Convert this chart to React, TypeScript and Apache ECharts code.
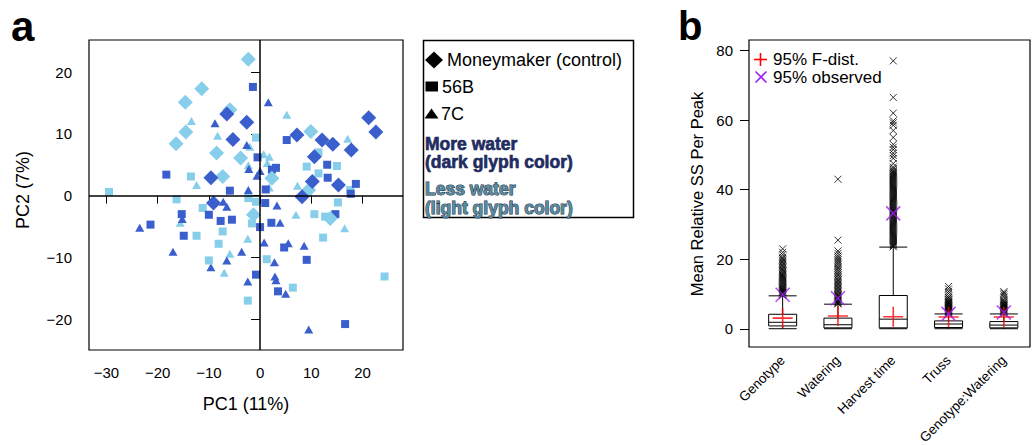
import React, { useEffect, useRef } from 'react';
import * as echarts from 'echarts';

// ---------- Panel a: PCA scores ----------
const darkDiamond = [
  [-6.5, 13.2], [-2.6, 11.9], [-5.3, 9.1], [-9.6, 2.9], [-9.1, -1.2], [7.2, 9.8],
  [21.2, 12.6], [22.6, 10.3], [12.1, 9.0], [14.2, 8.3], [17.8, 7.4], [10.6, 6.3],
  [10.2, 2.3], [15.3, 1.7], [8.2, -0.2],
];
const lightDiamond = [
  [-2.3, 22.1], [-11.4, 17.3], [-14.6, 15.1], [-5.9, 13.9], [-14.5, 10.3], [-16.4, 8.4],
  [-8.5, 6.9], [-3.8, 6.1], [-7.3, 3.1], [2.3, 2.8], [9.9, 10.4], [9.5, 0.9],
  [-1.3, -3.1], [13.7, -3.7],
];
const darkSquare = [
  [-1.4, 17.6], [-0.5, 6.2], [-18.3, 3.4], [-5.9, 0.8], [5.2, 9.0], [2.3, 4.2], [3.1, 4.5],
  [1.1, 1.0], [1.0, -1.2], [-15.3, -3.0], [-10.0, -3.1], [-7.7, -4.1], [-5.5, -3.9],
  [2.2, -4.4], [0.0, -5.1], [-14.9, -6.5], [4.7, -8.4], [9.1, -10.4], [-0.8, -12.8],
  [3.5, -15.5], [16.6, -20.8], [-21.4, -4.7], [13.1, 5.0], [13.2, 2.9], [18.7, 1.9],
  [17.7, 0.3], [14.7, -3.0],
];
const lightSquare = [
  [-0.8, 9.4], [-13.5, 3.1], [-29.5, 0.6], [-16.3, -0.6], [-2.3, -0.4], [-0.8, -1.0],
  [-11.2, -2.0], [-1.6, -4.5], [-12.4, -6.5], [-7.3, -5.8], [-8.1, -7.8], [-10.0, -10.5],
  [1.3, -10.3], [6.4, -14.9], [-2.4, -17.0], [9.1, 4.7], [15.0, 4.8], [11.4, 3.6],
  [17.6, 0.9], [15.2, -1.1], [10.6, -3.0], [12.7, -3.4], [12.3, -6.8], [24.3, -13.1],
  [11.4, 7.0],
];
const darkTriangle = [
  [-8.8, 11.7], [-2.6, 8.2], [-2.2, 4.3], [-0.6, 3.2], [-2.3, 0.9], [-7.2, -1.0],
  [-6.5, -1.8], [1.6, 15.1], [0.0, 4.0], [3.3, -1.6], [-15.2, -3.8], [3.9, -4.4],
  [-23.5, -5.2], [-17.0, -9.1], [-3.6, -9.1], [0.8, -7.6], [5.5, -7.7], [8.6, -8.1],
  [-6.5, -10.5], [-9.6, -11.6], [2.8, -10.8], [-2.4, -13.9], [2.9, -13.1], [3.1, -13.7],
  [5.0, -15.9], [9.5, -21.7],
];
const lightTriangle = [
  [-13.4, 12.1], [-8.3, 9.7], [-2.3, 4.9], [-2.0, 7.9], [-12.4, 1.7], [5.2, 13.1],
  [0.7, 6.7], [1.8, 6.3], [1.4, 5.3], [7.3, 1.6], [1.8, 1.3], [7.0, -3.1], [-15.6, -4.4],
  [-2.4, -7.0], [-5.9, -9.4], [-7.0, -12.5], [16.5, -5.3], [17.1, 9.2],
];
const pcaXTicks = [-30, -20, -10, 0, 10, 20];
const pcaYTicks = [-20, -10, 0, 10, 20];

// ---------- Panel b: boxplots ----------
const categories = ['Genotype', 'Watering', 'Harvest time', 'Truss', 'Genotype:Watering'];
// [min, Q1, median, Q3, upper whisker]
const boxStats = [
  [0.05, 0.86, 1.9, 4.2, 9.5],
  [0.05, 0.3, 1.2, 3.1, 7.1],
  [0.05, 0.3, 2.8, 9.6, 23.5],
  [0.05, 0.4, 1.4, 2.3, 4.3],
  [0.05, 0.3, 1.1, 2.1, 4.3],
];
const outGenotype = [
  9.6, 9.8, 10.0, 10.3, 10.5, 10.8, 11.0, 11.3, 11.5, 11.8, 12.0, 12.3, 12.6, 12.9, 13.2,
  13.5, 13.8, 14.1, 14.4, 14.7, 15.0, 15.3, 15.6, 16.0, 16.3, 16.7, 17.0, 17.4, 17.8, 18.2,
  18.6, 19.0, 19.4, 19.8, 20.2, 20.6, 21.3, 22.0, 23.0,
];
const outWatering = [
  7.2, 7.4, 7.7, 8.0, 8.3, 8.6, 8.9, 9.2, 9.5, 9.8, 10.1, 10.5, 10.9, 11.3, 11.7, 12.1,
  12.5, 12.9, 13.3, 13.7, 14.1, 14.5, 15.0, 15.5, 16.0, 16.5, 17.0, 17.5, 18.0, 18.6,
  19.2, 19.8, 20.4, 21.0, 21.7, 22.4, 25.5, 43.0,
];
const outHarvest = [
  23.6, 23.9, 24.2, 24.5, 24.8, 25.1, 25.4, 25.7, 26.0, 26.3, 26.6, 26.9, 27.2, 27.5,
  27.8, 28.1, 28.4, 28.7, 29.0, 29.3, 29.6, 29.9, 30.2, 30.5, 30.8, 31.1, 31.4, 31.7,
  32.0, 32.3, 32.6, 32.9, 33.2, 33.5, 33.8, 34.1, 34.4, 34.7, 35.0, 35.3, 35.6, 35.9,
  36.2, 36.5, 36.8, 37.1, 37.4, 37.7, 38.0, 38.3, 38.6, 38.9, 39.2, 39.5, 39.8, 40.1,
  40.4, 40.7, 41.0, 41.3, 41.6, 41.9, 42.2, 42.5, 42.8, 43.1, 43.4, 43.7, 44.0, 44.3,
  44.6, 44.9, 45.2, 45.5, 46.0, 46.5, 47.5, 49.0, 49.8, 50.5, 51.5, 52.2, 53.0, 55.0,
  57.0, 58.5, 59.2, 59.8, 62.0, 66.5, 77.0,
];
const outTruss = [
  4.4, 4.6, 4.8, 5.0, 5.2, 5.4, 5.6, 5.8, 6.0, 6.2, 6.4, 6.6, 6.8, 7.0, 7.2, 7.4, 7.6,
  7.8, 8.0, 8.3, 8.6, 9.0, 9.5, 10.2, 10.8, 11.5, 12.2,
];
const outGxW = [
  4.4, 4.6, 4.8, 5.0, 5.2, 5.4, 5.6, 5.8, 6.0, 6.2, 6.4, 6.6, 6.8, 7.0, 7.2, 7.5, 7.8,
  8.1, 8.5, 9.2, 9.8, 10.3, 10.7,
];
const fDist95 = [3.1, 3.7, 3.5, 3.4, 3.4];
const observed95 = [9.8, 8.8, 33.2, 4.3, 4.7];
const ssTicks = [0, 20, 40, 60, 80];

const DARK = '#3A5FCD';
const LIGHT = '#87CEEB';
const FONT = '"Liberation Sans", Arial, Helvetica, sans-serif';
const X_PATH = 'path://M0,0L10,10M10,0L0,10';
const PLUS_PATH = 'path://M5,0L5,10M0,5L10,5';

export default function App() {
  const ref = useRef<HTMLDivElement>(null);

  useEffect(() => {
    document.body.style.margin = '0';
    if (!ref.current) return;
    const chart = echarts.init(ref.current, undefined, { renderer: 'svg' });

    const scatter = (data: number[][], symbol: string, size: any, color: string, z: number) => ({
      type: 'scatter',
      xAxisIndex: 0,
      yAxisIndex: 0,
      data,
      symbol,
      symbolSize: size,
      itemStyle: { color, opacity: 1 },
      z,
      silent: true,
    });

    const outliers = [outGenotype, outWatering, outHarvest, outTruss, outGxW];
    const outlierData: number[][] = [];
    outliers.forEach((arr, i) => arr.forEach((v) => outlierData.push([i, v])));

    const minusFmt = (v: number) => String(v).replace('-', '\u2212');

    const option: any = {
      animation: false,
      textStyle: { fontFamily: FONT },
      grid: [
        { left: 89, top: 40, width: 314, height: 310, show: true, borderColor: '#000', borderWidth: 1.2, backgroundColor: 'transparent', containLabel: false, outerBoundsMode: 'none' },
        { left: 755, top: 40, width: 276.5, height: 307, containLabel: false, outerBoundsMode: 'none' },
      ],
      xAxis: [
        {
          type: 'value', gridIndex: 0, min: -33.4, max: 27.9,
          axisLine: { show: false },
          axisTick: { show: true, length: 8, customValues: pcaXTicks, lineStyle: { color: '#000' } },
          axisLabel: { customValues: pcaXTicks, fontSize: 15, color: '#000', margin: 15, formatter: minusFmt, fontFamily: FONT },
          splitLine: { show: false },
        },
        {
          type: 'category', gridIndex: 1, data: categories, boundaryGap: true,
          axisLine: { show: false },
          axisTick: { show: false },
          axisLabel: { rotate: 45, fontSize: 13.5, color: '#000', margin: 11, interval: 0, fontFamily: FONT },
          splitLine: { show: false },
        },
      ],
      yAxis: [
        {
          type: 'value', gridIndex: 0, min: -25, max: 25.2,
          axisLine: { show: false },
          axisTick: { show: true, length: 9, customValues: pcaYTicks, lineStyle: { color: '#000' } },
          axisLabel: { customValues: pcaYTicks, fontSize: 15, color: '#000', margin: 17, formatter: minusFmt, fontFamily: FONT },
          splitLine: { show: false },
        },
        {
          type: 'value', gridIndex: 1, min: -5.2, max: 83, offset: 6,
          axisLine: { show: false },
          axisTick: { show: true, length: 9, customValues: ssTicks, lineStyle: { color: '#000' } },
          axisLabel: { customValues: ssTicks, fontSize: 15, color: '#000', margin: 16, fontFamily: FONT },
          splitLine: { show: false },
        },
      ],
      series: [
        {
          type: 'scatter', xAxisIndex: 0, yAxisIndex: 0, data: [], z: 1, silent: true,
          markLine: {
            silent: true, symbol: ['none', 'none'], animation: false,
            label: { show: false },
            lineStyle: { color: '#000', width: 1.5, type: 'solid' },
            data: [{ xAxis: 0 }, { yAxis: 0 }],
          },
        },
        scatter(lightTriangle, 'triangle', [9, 8], LIGHT, 2),
        scatter(darkTriangle, 'triangle', [9, 8], DARK, 2),
        scatter(lightSquare, 'rect', 8, LIGHT, 3),
        scatter(darkSquare, 'rect', 8, DARK, 3),
        scatter(lightDiamond, 'diamond', 15, LIGHT, 4),
        scatter(darkDiamond, 'diamond', 15, DARK, 4),
        {
          type: 'boxplot', xAxisIndex: 1, yAxisIndex: 1, data: boxStats,
          boxWidth: [28, 28], silent: true,
          itemStyle: { color: '#fff', borderColor: '#000', borderWidth: 1 },
          z: 2,
        },
        {
          type: 'scatter', xAxisIndex: 1, yAxisIndex: 1, data: outlierData, silent: true,
          symbol: X_PATH, symbolSize: 7,
          itemStyle: { color: 'rgba(0,0,0,0)', borderColor: '#000', borderWidth: 1 },
          z: 3,
        },
        {
          type: 'scatter', xAxisIndex: 1, yAxisIndex: 1, data: fDist95.map((v, i) => [i, v]), silent: true,
          symbol: PLUS_PATH, symbolSize: 20,
          itemStyle: { color: 'rgba(0,0,0,0)', borderColor: '#ff0000', borderWidth: 1.6 },
          z: 5,
        },
        {
          type: 'scatter', xAxisIndex: 1, yAxisIndex: 1, data: observed95.map((v, i) => [i, v]), silent: true,
          symbol: X_PATH, symbolSize: 14,
          itemStyle: { color: 'rgba(0,0,0,0)', borderColor: '#a020f0', borderWidth: 1.6 },
          z: 6,
        },
      ],
      graphic: [
        // panel letters
        { type: 'text', left: 11, top: 5, style: { text: 'a', fontSize: 42, fontWeight: 'bold', fontFamily: FONT, fill: '#000' } },
        { type: 'text', left: 678, top: 6, style: { text: 'b', fontSize: 40, fontWeight: 'bold', fontFamily: FONT, fill: '#000' } },
        // axis titles
        { type: 'text', x: 246, y: 404, style: { text: 'PC1 (11%)', fontSize: 18, fontFamily: FONT, fill: '#000', align: 'center', verticalAlign: 'middle' } },
        { type: 'text', x: 23, y: 190, rotation: Math.PI / 2, style: { text: 'PC2 (7%)', fontSize: 18, fontFamily: FONT, fill: '#000', align: 'center', verticalAlign: 'middle' } },
        { type: 'text', x: 697, y: 194, rotation: Math.PI / 2, style: { text: 'Mean Relative SS Per Peak', fontSize: 16.5, fontFamily: FONT, fill: '#000', align: 'center', verticalAlign: 'middle' } },
        // right frame
        { type: 'rect', silent: true, shape: { x: 749, y: 40, width: 281, height: 307 }, style: { fill: 'none', stroke: '#000', lineWidth: 1.2 }, z: 10 },
        // legend a
        { type: 'rect', silent: true, shape: { x: 423.5, y: 40.5, width: 210, height: 177 }, style: { fill: '#fff', stroke: '#000', lineWidth: 1.5 } },
        { type: 'polygon', silent: true, shape: { points: [[434, 51.5], [443, 60], [434, 68.5], [425, 60]] }, style: { fill: '#000' } },
        { type: 'rect', silent: true, shape: { x: 425.5, y: 81.5, width: 12.5, height: 10 }, style: { fill: '#000' } },
        { type: 'polygon', silent: true, shape: { points: [[431.5, 108.5], [438.5, 118.5], [424.5, 118.5]] }, style: { fill: '#000' } },
        { type: 'text', x: 447, y: 60, style: { text: 'Moneymaker (control)', fontSize: 18, fontFamily: FONT, fill: '#000', verticalAlign: 'middle' } },
        { type: 'text', x: 442, y: 87, style: { text: '56B', fontSize: 18, fontFamily: FONT, fill: '#000', verticalAlign: 'middle' } },
        { type: 'text', x: 441, y: 114, style: { text: '7C', fontSize: 18, fontFamily: FONT, fill: '#000', verticalAlign: 'middle' } },
        { type: 'text', x: 425, y: 144, style: { text: 'More water', fontSize: 17.5, fontWeight: 'bold', fontFamily: FONT, fill: '#1f2c66', stroke: '#0b1030', lineWidth: 0.6, verticalAlign: 'middle' } },
        { type: 'text', x: 425, y: 162, style: { text: '(dark glyph color)', fontSize: 17.5, fontWeight: 'bold', fontFamily: FONT, fill: '#1f2c66', stroke: '#0b1030', lineWidth: 0.6, verticalAlign: 'middle' } },
        { type: 'text', x: 425, y: 189, style: { text: 'Less water', fontSize: 17.5, fontWeight: 'bold', fontFamily: FONT, fill: '#5a8aa2', stroke: '#1a2e3a', lineWidth: 1, verticalAlign: 'middle' } },
        { type: 'text', x: 425, y: 208, style: { text: '(light glyph color)', fontSize: 17.5, fontWeight: 'bold', fontFamily: FONT, fill: '#5a8aa2', stroke: '#1a2e3a', lineWidth: 1, verticalAlign: 'middle' } },
        // legend b
        { type: 'line', silent: true, shape: { x1: 754, y1: 59.5, x2: 767, y2: 59.5 }, style: { stroke: '#ff0000', lineWidth: 1.6 } },
        { type: 'line', silent: true, shape: { x1: 760.5, y1: 53, x2: 760.5, y2: 66 }, style: { stroke: '#ff0000', lineWidth: 1.6 } },
        { type: 'line', silent: true, shape: { x1: 755.5, y1: 71.5, x2: 766.5, y2: 82.5 }, style: { stroke: '#a020f0', lineWidth: 1.6 } },
        { type: 'line', silent: true, shape: { x1: 766.5, y1: 71.5, x2: 755.5, y2: 82.5 }, style: { stroke: '#a020f0', lineWidth: 1.6 } },
        { type: 'text', x: 773, y: 59, style: { text: '95% F-dist.', fontSize: 17, fontFamily: FONT, fill: '#000', verticalAlign: 'middle' } },
        { type: 'text', x: 773, y: 77, style: { text: '95% observed', fontSize: 17, fontFamily: FONT, fill: '#000', verticalAlign: 'middle' } },
      ],
    };

    chart.setOption(option);
    return () => chart.dispose();
  }, []);

  return <div ref={ref} style={{ width: 1036, height: 445 }} />;
}
